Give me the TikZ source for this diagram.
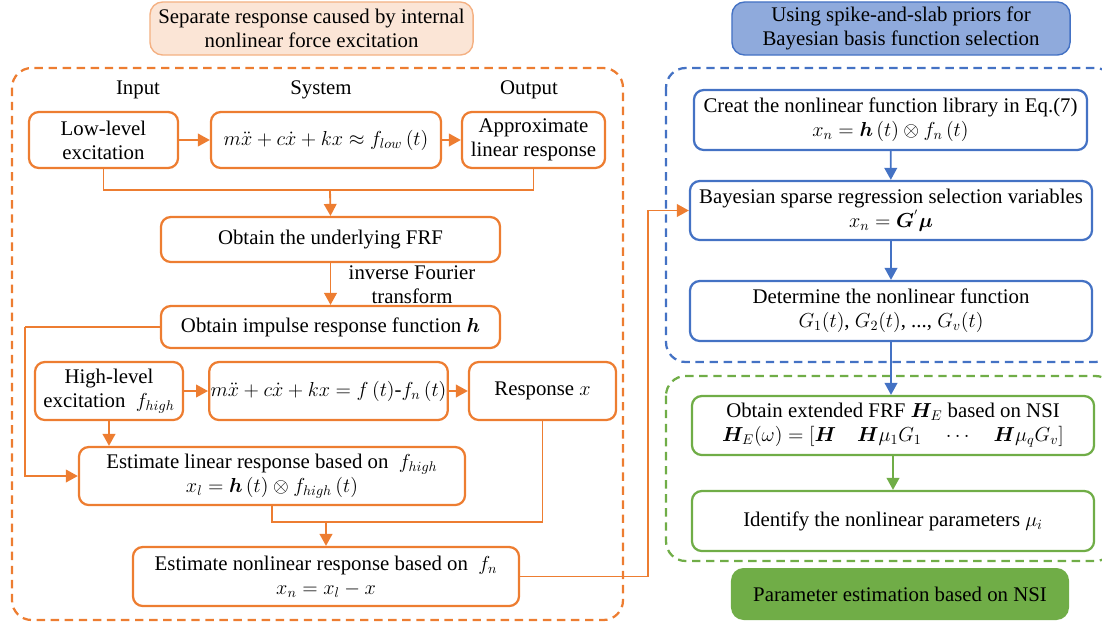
\documentclass[tikz,border=0pt]{standalone}
\usepackage{amsmath}
\usepackage{bm}
\usepackage{fontspec}
\setmainfont{Liberation Serif}
\usetikzlibrary{arrows.meta, positioning, calc}
\definecolor{flowor}{HTML}{ED7D31}
\definecolor{headorfill}{HTML}{FBE5D6}
\definecolor{headorline}{HTML}{F4B183}
\definecolor{flowbl}{HTML}{4472C4}
\definecolor{headblfill}{HTML}{8FAADC}
\definecolor{flowgr}{HTML}{70AD47}

\tikzset{
  txt/.style={font=\fontsize{14.8}{17}\selectfont, align=center, inner sep=1pt},
  obox/.style={txt, draw=flowor, line width=1.6pt, rounded corners=7pt},
  bbox/.style={txt, draw=flowbl, line width=1.6pt, rounded corners=7pt},
  gbox/.style={txt, draw=flowgr, line width=1.6pt, rounded corners=7pt},
  oarrow/.style={draw=flowor, line width=1.3pt, -{Triangle[width=9pt,length=8.5pt]}},
  oline/.style={draw=flowor, line width=1.3pt},
  barrow/.style={draw=flowbl, line width=1.3pt, -{Triangle[width=9pt,length=8.5pt]}},
  garrow/.style={draw=flowgr, line width=1.3pt, -{Triangle[width=9pt,length=8.5pt]}},
  groupbox/.style={line width=1.6pt, dash pattern=on 6pt off 4pt, rounded corners=14pt}
}

\begin{document}
\begin{tikzpicture}[x=0.025cm, y=-0.025cm]
  \useasboundingbox (0,0) rectangle (1102,626);
  \clip (0,0) rectangle (1102,626);

  % Headers
  \node[txt, fill=headorfill, draw=headorline, line width=1pt, rounded corners=9pt,
        minimum width=8.075cm, minimum height=1.325cm] (heador) at (311.5,28.5)
        {Separate response caused by internal\\nonlinear force excitation};
  \node[txt, fill=headblfill, draw=flowbl, line width=1pt, rounded corners=9pt,
        minimum width=8.45cm, minimum height=1.325cm] (headbl) at (901,28.5)
        {Using spike-and-slab priors for\\Bayesian basis function selection};

  % Group frames
  \draw[groupbox, draw=flowor] (12,68) rectangle (623,620);
  \draw[groupbox, draw=flowbl] (666,68) rectangle (1115,362);
  \draw[groupbox, draw=flowgr] (666,376) rectangle (1115,561);

  % Left column: low-level test
  \node[txt] (lblin) at (138,90) {Input};
  \node[txt] (lblsys) at (321,90) {System};
  \node[txt] (lblout) at (529,90) {Output};
  \node[obox, minimum width=3.725cm, minimum height=1.4cm] (low) at (103.5,140) {Low-level\\excitation};
  \node[obox, minimum width=5.75cm, minimum height=1.4cm] (sysa) at (326,140)
        {$m\ddot{x}+c\dot{x}+kx\approx f_{low}\left(t\right)$};
  \node[obox, minimum width=3.575cm, minimum height=1.4cm] (approx) at (533.5,140) {Approximate\\linear response};
  \node[obox, minimum width=8.475cm, minimum height=1.125cm] (frf) at (330.5,239.5) {Obtain the underlying FRF};
  \node[txt] (ift) at (412,285) {inverse Fourier\\transform};
  \node[obox, minimum width=8.475cm, minimum height=1.05cm] (imp) at (330.5,327)
        {Obtain impulse response function $\bm{h}$};

  % Left column: high-level test
  \node[obox, minimum width=3.7cm, minimum height=1.45cm] (high) at (109,391)
        {High-level\\excitation~ $f_{high}$};
  \node[obox, minimum width=5.575cm, minimum height=1.45cm] (sysb) at (328.5,391)
        {$m\ddot{x}+c\dot{x}+kx=f\left(t\right)$-$f_n\left(t\right)$};
  \node[obox, minimum width=3.675cm, minimum height=1.45cm] (resp) at (542.5,391) {Response $x$};
  \node[obox, minimum width=9.65cm, minimum height=1.45cm] (estlin) at (272,476)
        {Estimate linear response based on~ $f_{high}$\\$x_l=\bm{h}\left(t\right)\otimes f_{high}\left(t\right)$};
  \node[obox, minimum width=9.65cm, minimum height=1.475cm] (estnon) at (326,576.5)
        {Estimate nonlinear response based on~ $f_n$\\$x_n=x_l-x$};

  % Right column
  \node[bbox, minimum width=9.825cm, minimum height=1.5cm] (lib) at (890.5,120)
        {Creat the nonlinear function library in Eq.(7)\\$x_n=\bm{h}\left(t\right)\otimes f_n\left(t\right)$};
  \node[bbox, minimum width=10.05cm, minimum height=1.475cm] (bayes) at (891,210.5)
        {Bayesian sparse regression selection variables\\$x_n=\bm{G}^{'}\bm{\mu}$};
  \node[bbox, minimum width=10.05cm, minimum height=1.5cm] (determ) at (891,311)
        {Determine the nonlinear function\\$G_1(t)$, $G_2(t)$, ..., $G_v(t)$};
  \node[gbox, minimum width=10.05cm, minimum height=1.475cm] (extfrf) at (893,425.5)
        {Obtain extended FRF $\bm{H}_{E}$ based on NSI\\$\bm{H}_E(\omega)=\left[\bm{H}\quad \bm{H}\mu_1G_1\quad\cdots\quad \bm{H}\mu_qG_v\right]$};
  \node[gbox, minimum width=10.05cm, minimum height=1.5cm] (ident) at (893,521)
        {Identify the nonlinear parameters $\mu_i$};
  \node[txt, fill=flowgr, rounded corners=9pt, minimum width=8.45cm, minimum height=1.3cm] (paramest) at (900,594)
        {Parameter estimation based on NSI};

  % Connectors, left
  \coordinate (joina) at (330,190);
  \coordinate (loopl) at (25,327);
  \coordinate (joinb) at (326,522);
  \coordinate (turn) at (648,576.5);
  \draw[oarrow] (low) -- (sysa);
  \draw[oarrow] (sysa) -- (approx);
  \draw[oline] (low.south) |- (approx.south |- joina) -- (approx.south);
  \draw[oarrow] (joina) -- (frf.north);
  \draw[oarrow] (frf.south) -- (imp.north);
  \draw[oline] (imp.west) -- (loopl);
  \draw[oarrow] (loopl) |- (estlin.west);
  \draw[oarrow] (high) -- (sysb);
  \draw[oarrow] (sysb) -- (resp);
  \draw[oarrow] (high.south) -- (high.south |- estlin.north);
  \draw[oline] (estlin.south) |- (resp.south |- joinb) -- (resp.south);
  \draw[oarrow] (joinb) -- (estnon.north);
  \draw[oline] (estnon.east) -- (turn);
  \draw[oarrow] (turn) |- (bayes.west);

  % Connectors, right
  \draw[barrow] (lib) -- (bayes);
  \draw[barrow] (bayes) -- (determ);
  \draw[barrow] (determ.south) -- (determ.south |- extfrf.north);
  \draw[garrow] (extfrf) -- (ident);
\end{tikzpicture}
\end{document}
